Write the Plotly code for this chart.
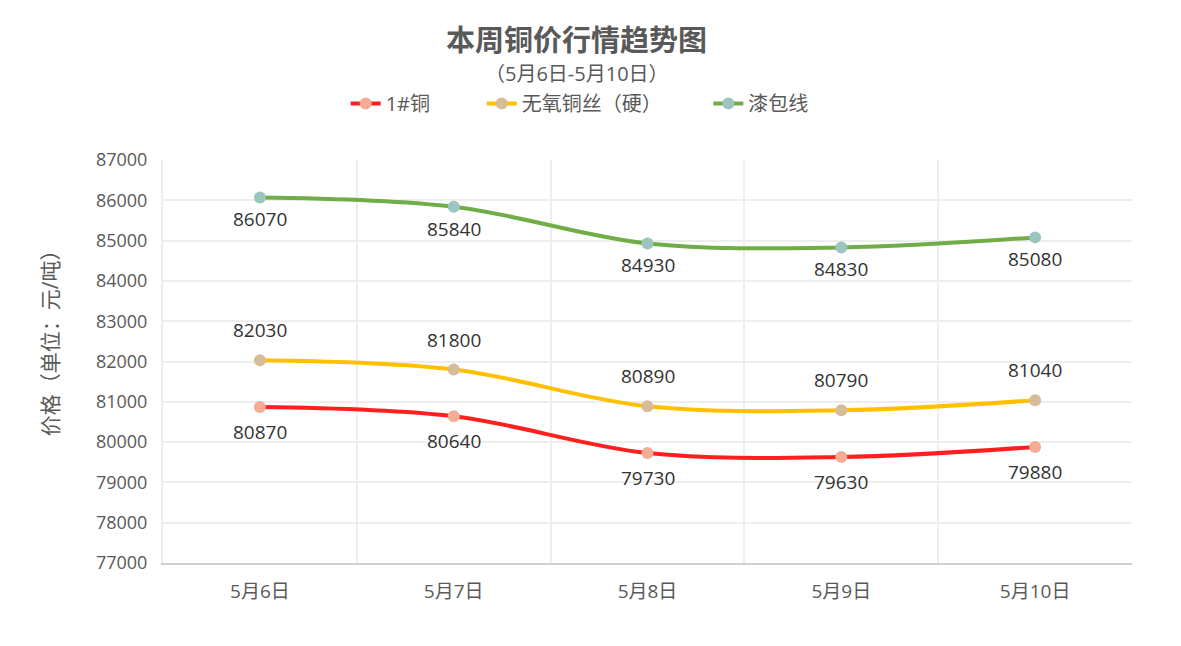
import plotly.graph_objects as go

dates = ["5月6日", "5月7日", "5月8日", "5月9日", "5月10日"]
copper1 = [80870, 80640, 79730, 79630, 79880]
oxygen_free = [82030, 81800, 80890, 80790, 81040]
enamel = [86070, 85840, 84930, 84830, 85080]
y_ticks = list(range(77000, 87001, 1000))

NB = "\u00a0"
series = [
    ("1#铜" + NB * 9, copper1, "#FF1F1F", "#F4AC94", -25),
    ("无氧铜丝（硬）" + NB * 8, oxygen_free, "#FFC000", "#D6BC98", 30),
    ("漆包线", enamel, "#70AD47", "#9CC5C0", -22),
]

FONT = "Open Sans, Noto Sans CJK SC, Microsoft YaHei, sans-serif"
fig = go.Figure()
annotations = []
for name, vals, lc, mc, shift in series:
    fig.add_trace(go.Scatter(
        x=dates, y=vals, name=name, mode="lines+markers",
        line=dict(color=lc, width=4, shape="spline", smoothing=1.0),
        marker=dict(color=mc, size=12),
        hoverinfo="x+y",
    ))
    for d, v in zip(dates, vals):
        annotations.append(dict(
            x=d, y=v, xref="x", yref="y", text=str(v), showarrow=False,
            yshift=shift, font=dict(size=19, color="#333333", family=FONT),
        ))

annotations.append(dict(
    x=0.427, y=1.298, xref="paper", yref="paper", text="<b>本周铜价行情趋势图</b>",
    showarrow=False, font=dict(size=29, color="#595959", family=FONT),
    xanchor="center", yanchor="middle"))
annotations.append(dict(
    x=0.427, y=1.214, xref="paper", yref="paper", text="（5月6日-5月10日）",
    showarrow=False, font=dict(size=20, color="#595959", family=FONT),
    xanchor="center", yanchor="middle"))
annotations.append(dict(
    x=-0.1166, y=0.558, xref="paper", yref="paper", text="价格（单位：元/吨）",
    textangle=-90, showarrow=False, font=dict(size=21, color="#595959", family=FONT),
    xanchor="center", yanchor="middle"))

fig.update_layout(
    width=1181, height=646,
    margin=dict(l=163, r=49, t=160, b=83),
    paper_bgcolor="white", plot_bgcolor="white",
    font=dict(family=FONT, color="#595959"),
    showlegend=True,
    legend=dict(orientation="h", x=0.43, xanchor="center", y=1.14, yanchor="middle",
                font=dict(size=20, color="#595959", family=FONT),
                itemwidth=30),
    annotations=annotations,
    xaxis=dict(
        type="category", range=[-0.5, 4.5], tickson="boundaries",
        showgrid=True, gridcolor="#EEEEEE", gridwidth=2,
        showline=True, linecolor="#D0D0D0", linewidth=2,
        ticks="", ticklabelstandoff=10,
        tickfont=dict(size=19, color="#595959", family=FONT),
        mirror=False, zeroline=False,
    ),
    yaxis=dict(
        range=[77000, 87000], tickvals=y_ticks, ticktext=[str(t) for t in y_ticks],
        showgrid=True, gridcolor="#EEEEEE", gridwidth=2,
        showline=True, linecolor="#EEEEEE", linewidth=2, zeroline=False,
        ticks="outside", ticklen=10, tickcolor="rgba(0,0,0,0)",
        tickfont=dict(size=18, color="#595959", family=FONT),
    ),
)

fig.write_html("out.html")
